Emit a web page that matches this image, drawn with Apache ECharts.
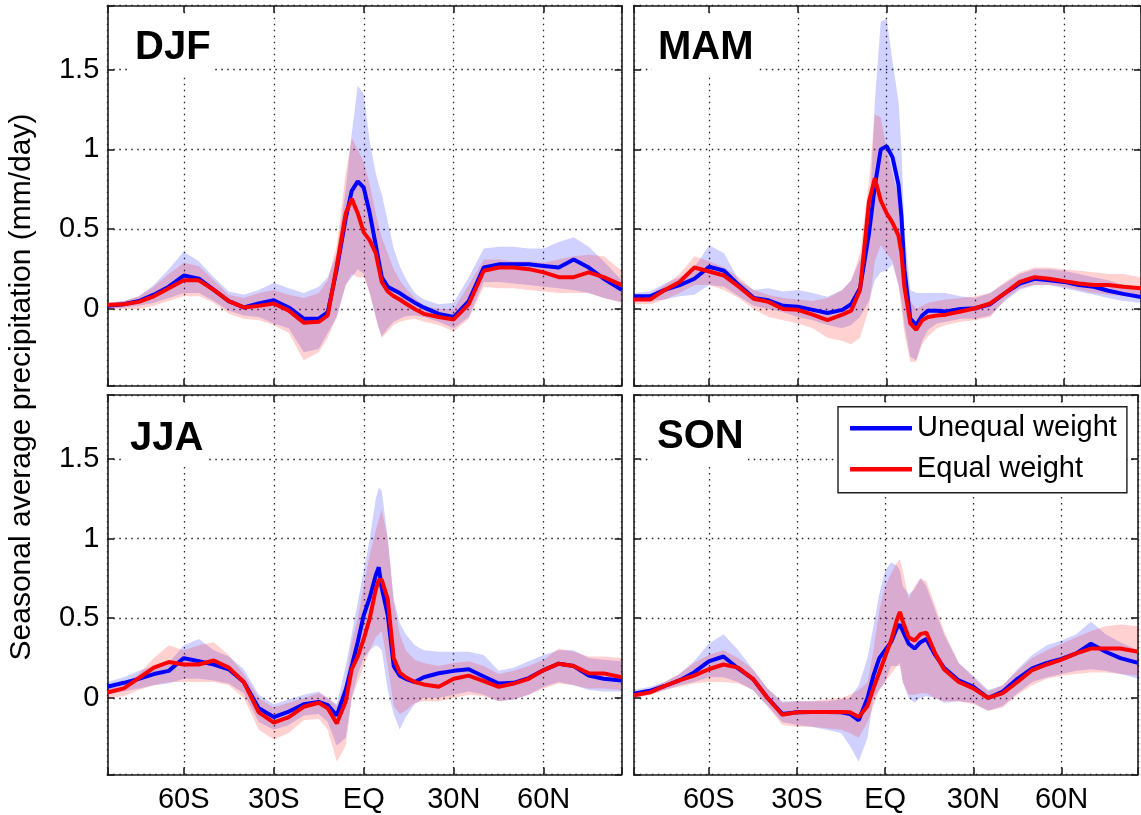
<!DOCTYPE html>
<html>
<head>
<meta charset="utf-8">
<script src="https://cdn.jsdelivr.net/npm/echarts@6/dist/echarts.min.js"></script>
<style>
  html, body { margin: 0; padding: 0; background: #fff; }
  #chart { width: 1141px; height: 815px; }
</style>
</head>
<body>
<div id="chart"></div>
<script>
// Latitude grid (degrees, negative = south) shared by every curve
const LAT = [-85.5, -80, -75, -70, -65, -60, -55, -50, -45, -40, -35, -30, -25, -20, -15, -12, -9, -6, -4, -2,
             0, 2, 4, 5, 6, 8, 10, 12, 14, 17, 20, 25, 30, 35, 40, 45, 50, 55, 60, 65, 70, 75, 80, 86];

const X_TICK_VALUES = [-60, -30, 0, 30, 60];
const X_TICK_LABELS = ['60S', '30S', 'EQ', '30N', '60N'];
const Y_TICK_VALUES = [0, 0.5, 1, 1.5];
const Y_TICK_LABELS = ['0', '0.5', '1', '1.5'];

const SEASONS = ['DJF', 'MAM', 'JJA', 'SON'];
const SERIES_NAMES = ['Unequal weight', 'Equal weight'];
const Y_TITLE = 'Seasonal average precipitation (mm/day)';

// DJF
const DJF_UNEQ    = [0.02, 0.03, 0.05, 0.09, 0.14, 0.21, 0.19, 0.12, 0.05, 0.01, 0.035, 0.055, 0.01, -0.06, -0.06, -0.02, 0.25, 0.57, 0.74, 0.8, 0.76, 0.6, 0.4, 0.3, 0.2, 0.14, 0.12, 0.1, 0.075, 0.04, 0.01, -0.03, -0.05, 0.05, 0.26, 0.28, 0.28, 0.28, 0.27, 0.26, 0.31, 0.26, 0.19, 0.12];
const DJF_UNEQ_HI = [0.04, 0.05, 0.08, 0.15, 0.25, 0.36, 0.3, 0.2, 0.11, 0.09, 0.12, 0.165, 0.13, 0.1, 0.14, 0.2, 0.35, 0.75, 1.1, 1.4, 1.35, 1.05, 0.85, 0.78, 0.72, 0.55, 0.38, 0.27, 0.19, 0.1, 0.06, 0.03, 0.04, 0.2, 0.38, 0.39, 0.39, 0.38, 0.38, 0.42, 0.45, 0.39, 0.3, 0.18];
const DJF_UNEQ_LO = [0.0, 0.01, 0.02, 0.04, 0.07, 0.1, 0.1, 0.05, -0.01, -0.04, -0.05, -0.09, -0.12, -0.27, -0.25, -0.15, -0.05, 0.15, 0.2, 0.25, 0.22, 0.1, -0.05, -0.12, -0.17, -0.12, -0.08, -0.06, -0.045, -0.04, -0.05, -0.08, -0.12, -0.05, 0.17, 0.17, 0.16, 0.15, 0.14, 0.13, 0.12, 0.1, 0.07, 0.045];
const DJF_EQ      = [0.025, 0.03, 0.045, 0.08, 0.13, 0.18, 0.18, 0.12, 0.05, 0.01, 0.02, 0.035, -0.01, -0.085, -0.08, -0.04, 0.27, 0.6, 0.69, 0.6, 0.48, 0.43, 0.35, 0.26, 0.17, 0.11, 0.08, 0.06, 0.035, 0.0, -0.03, -0.05, -0.065, 0.03, 0.24, 0.26, 0.26, 0.25, 0.23, 0.2, 0.2, 0.23, 0.2, 0.15];
const DJF_EQ_HI   = [0.04, 0.05, 0.08, 0.14, 0.22, 0.29, 0.27, 0.18, 0.09, 0.07, 0.1, 0.12, 0.09, 0.07, 0.1, 0.18, 0.4, 0.85, 1.07, 1.0, 0.92, 0.78, 0.6, 0.52, 0.45, 0.35, 0.25, 0.18, 0.13, 0.07, 0.02, 0.0, 0.0, 0.15, 0.31, 0.31, 0.3, 0.3, 0.29, 0.31, 0.33, 0.34, 0.33, 0.24];
const DJF_EQ_LO   = [0.0, 0.0, 0.0, 0.02, 0.05, 0.08, 0.08, 0.04, -0.03, -0.06, -0.07, -0.1, -0.15, -0.32, -0.27, -0.18, -0.05, 0.15, 0.22, 0.2, 0.2, 0.1, -0.05, -0.12, -0.18, -0.14, -0.1, -0.08, -0.07, -0.06, -0.08, -0.1, -0.14, -0.06, 0.14, 0.13, 0.13, 0.12, 0.11, 0.1, 0.1, 0.1, 0.07, 0.04];

// MAM
const MAM_UNEQ    = [0.08, 0.08, 0.12, 0.15, 0.19, 0.265, 0.24, 0.15, 0.07, 0.055, 0.02, 0.015, -0.005, -0.025, -0.005, 0.03, 0.13, 0.47, 0.77, 1.0, 1.02, 0.95, 0.78, 0.58, 0.25, -0.06, -0.1, -0.04, -0.01, -0.01, -0.015, 0.0, 0.005, 0.03, 0.1, 0.16, 0.19, 0.18, 0.17, 0.15, 0.14, 0.115, 0.095, 0.075];
const MAM_UNEQ_HI = [0.1, 0.11, 0.16, 0.2, 0.26, 0.4, 0.35, 0.18, 0.12, 0.13, 0.11, 0.12, 0.1, 0.077, 0.12, 0.18, 0.31, 0.5, 1.3, 1.8, 1.82, 1.55, 1.3, 1.0, 0.5, 0.12, 0.1, 0.1, 0.1, 0.1, 0.1, 0.08, 0.07, 0.1, 0.16, 0.22, 0.25, 0.25, 0.24, 0.22, 0.2, 0.18, 0.15, 0.12];
const MAM_UNEQ_LO = [0.05, 0.05, 0.06, 0.08, 0.09, 0.15, 0.14, 0.08, 0.02, 0.0, -0.02, -0.05, -0.07, -0.1, -0.12, -0.1, -0.05, 0.05, 0.18, 0.23, 0.24, 0.28, 0.15, 0.05, -0.1, -0.3, -0.32, -0.2, -0.13, -0.09, -0.08, -0.06, -0.06, -0.04, 0.05, 0.12, 0.15, 0.15, 0.13, 0.11, 0.09, 0.07, 0.05, 0.04];
const MAM_EQ      = [0.06, 0.06, 0.12, 0.17, 0.26, 0.235, 0.21, 0.14, 0.065, 0.045, 0.0, -0.005, -0.035, -0.07, -0.035, -0.01, 0.12, 0.67, 0.82, 0.68, 0.6, 0.54, 0.46, 0.35, 0.14, -0.09, -0.13, -0.07, -0.05, -0.04, -0.035, -0.015, 0.005, 0.035, 0.1, 0.17, 0.2, 0.19, 0.175, 0.16, 0.15, 0.15, 0.14, 0.13];
const MAM_EQ_HI   = [0.08, 0.09, 0.15, 0.22, 0.33, 0.3, 0.26, 0.2, 0.12, 0.09, 0.07, 0.06, 0.05, 0.07, 0.12, 0.18, 0.35, 0.8, 1.22, 1.2, 1.0, 0.85, 0.7, 0.5, 0.3, 0.05, 0.0, 0.02, 0.04, 0.05, 0.06, 0.07, 0.08, 0.1, 0.17, 0.23, 0.26, 0.26, 0.25, 0.24, 0.23, 0.22, 0.22, 0.2];
const MAM_EQ_LO   = [0.03, 0.03, 0.06, 0.1, 0.15, 0.15, 0.12, 0.07, 0.0, -0.05, -0.07, -0.09, -0.12, -0.18, -0.2, -0.22, -0.18, 0.0, 0.3, 0.4, 0.35, 0.3, 0.15, 0.0, -0.15, -0.33, -0.33, -0.22, -0.17, -0.12, -0.1, -0.08, -0.07, -0.05, 0.06, 0.13, 0.15, 0.15, 0.14, 0.12, 0.1, 0.09, 0.08, 0.07];

// JJA
const JJA_UNEQ    = [0.07, 0.095, 0.12, 0.15, 0.17, 0.25, 0.23, 0.21, 0.18, 0.1, -0.065, -0.12, -0.085, -0.04, -0.025, -0.045, -0.11, 0.05, 0.2, 0.35, 0.52, 0.63, 0.77, 0.82, 0.69, 0.52, 0.2, 0.14, 0.12, 0.1, 0.13, 0.155, 0.17, 0.18, 0.135, 0.09, 0.095, 0.125, 0.175, 0.215, 0.2, 0.14, 0.12, 0.11];
const JJA_UNEQ_HI = [0.1, 0.13, 0.17, 0.2, 0.22, 0.33, 0.37, 0.3, 0.26, 0.18, 0.02, -0.04, -0.01, 0.02, 0.04, 0.0, -0.04, 0.2, 0.4, 0.6, 0.8, 1.0, 1.25, 1.32, 1.3, 1.0, 0.62, 0.47, 0.4, 0.33, 0.3, 0.29, 0.29, 0.29, 0.27, 0.17, 0.19, 0.23, 0.27, 0.3, 0.3, 0.25, 0.24, 0.23];
const JJA_UNEQ_LO = [0.02, 0.04, 0.06, 0.08, 0.09, 0.12, 0.12, 0.11, 0.09, 0.03, -0.15, -0.2, -0.17, -0.11, -0.1, -0.15, -0.3, -0.25, 0.0, 0.15, 0.25, 0.3, 0.33, 0.32, 0.3, 0.05, -0.1, -0.2, -0.12, -0.04, 0.0, 0.0, 0.02, 0.04, 0.02, -0.02, -0.01, 0.02, 0.07, 0.1, 0.08, 0.05, 0.04, 0.04];
const JJA_EQ      = [0.034, 0.06, 0.125, 0.19, 0.225, 0.21, 0.21, 0.235, 0.19, 0.1, -0.09, -0.155, -0.12, -0.055, -0.03, -0.065, -0.16, -0.02, 0.18, 0.26, 0.37, 0.5, 0.68, 0.74, 0.74, 0.62, 0.25, 0.16, 0.13, 0.1, 0.085, 0.07, 0.12, 0.14, 0.105, 0.07, 0.09, 0.12, 0.175, 0.215, 0.2, 0.155, 0.154, 0.13];
const JJA_EQ_HI   = [0.06, 0.08, 0.15, 0.25, 0.33, 0.3, 0.33, 0.35, 0.27, 0.15, 0.0, -0.06, -0.03, 0.0, 0.03, 0.0, -0.05, 0.1, 0.35, 0.5, 0.7, 0.9, 1.05, 1.12, 1.18, 1.0, 0.6, 0.4, 0.3, 0.24, 0.22, 0.2, 0.22, 0.23, 0.2, 0.15, 0.17, 0.2, 0.24, 0.31, 0.29, 0.26, 0.26, 0.25];
const JJA_EQ_LO   = [0.0, 0.01, 0.05, 0.08, 0.1, 0.1, 0.1, 0.1, 0.08, 0.0, -0.2, -0.26, -0.22, -0.14, -0.13, -0.2, -0.4, -0.3, 0.0, 0.1, 0.2, 0.3, 0.38, 0.4, 0.42, 0.2, -0.05, -0.1, -0.08, -0.03, -0.02, -0.02, 0.0, 0.02, 0.01, -0.02, -0.01, 0.02, 0.06, 0.09, 0.08, 0.06, 0.06, 0.05];

// SON
const SON_UNEQ    = [0.027, 0.045, 0.075, 0.11, 0.16, 0.23, 0.26, 0.185, 0.12, 0.0, -0.1, -0.09, -0.088, -0.088, -0.09, -0.1, -0.14, 0.0, 0.14, 0.25, 0.3, 0.35, 0.44, 0.46, 0.42, 0.34, 0.31, 0.35, 0.37, 0.27, 0.19, 0.11, 0.07, 0.0, 0.04, 0.12, 0.185, 0.22, 0.245, 0.28, 0.34, 0.29, 0.25, 0.22];
const SON_UNEQ_HI = [0.05, 0.07, 0.1, 0.15, 0.23, 0.34, 0.4, 0.3, 0.18, 0.06, -0.02, -0.02, -0.02, -0.02, -0.01, 0.0, 0.08, 0.25, 0.45, 0.65, 0.8, 0.85, 0.83, 0.8, 0.7, 0.65, 0.68, 0.75, 0.7, 0.55, 0.4, 0.22, 0.14, 0.05, 0.08, 0.18, 0.27, 0.33, 0.36, 0.4, 0.48, 0.4, 0.35, 0.3];
const SON_UNEQ_LO = [0.0, 0.02, 0.05, 0.08, 0.1, 0.13, 0.13, 0.1, 0.05, -0.05, -0.15, -0.17, -0.18, -0.2, -0.22, -0.3, -0.4, -0.25, 0.0, 0.05, 0.1, 0.2, 0.2, 0.22, 0.1, 0.0, -0.03, 0.0, 0.01, 0.0, -0.03, -0.02, -0.03, -0.08, -0.05, 0.03, 0.1, 0.13, 0.15, 0.17, 0.18, 0.17, 0.15, 0.12];
const SON_EQ      = [0.017, 0.035, 0.075, 0.11, 0.14, 0.18, 0.21, 0.19, 0.12, 0.0, -0.105, -0.09, -0.088, -0.088, -0.088, -0.09, -0.12, -0.05, 0.06, 0.16, 0.26, 0.36, 0.49, 0.54, 0.48, 0.38, 0.36, 0.4, 0.41, 0.28, 0.18, 0.1, 0.06, 0.0, 0.03, 0.1, 0.175, 0.21, 0.24, 0.28, 0.31, 0.31, 0.31, 0.29];
const SON_EQ_HI   = [0.04, 0.06, 0.1, 0.15, 0.22, 0.27, 0.3, 0.25, 0.18, 0.06, -0.03, -0.02, -0.02, -0.01, 0.0, 0.02, 0.05, 0.1, 0.3, 0.55, 0.7, 0.78, 0.85, 0.87, 0.8, 0.62, 0.7, 0.75, 0.73, 0.58, 0.42, 0.22, 0.13, 0.04, 0.08, 0.17, 0.25, 0.3, 0.34, 0.38, 0.42, 0.45, 0.46, 0.45];
const SON_EQ_LO   = [0.0, 0.02, 0.05, 0.07, 0.09, 0.1, 0.1, 0.09, 0.05, -0.05, -0.17, -0.18, -0.18, -0.19, -0.2, -0.22, -0.25, -0.15, -0.05, 0.05, 0.1, 0.15, 0.2, 0.2, 0.1, 0.02, 0.02, 0.03, 0.03, 0.0, -0.02, -0.02, -0.04, -0.08, -0.06, 0.02, 0.08, 0.12, 0.14, 0.15, 0.16, 0.16, 0.15, 0.14];

const PANEL_DATA = [
  { uneq: DJF_UNEQ, uneqHi: DJF_UNEQ_HI, uneqLo: DJF_UNEQ_LO, eq: DJF_EQ, eqHi: DJF_EQ_HI, eqLo: DJF_EQ_LO },
  { uneq: MAM_UNEQ, uneqHi: MAM_UNEQ_HI, uneqLo: MAM_UNEQ_LO, eq: MAM_EQ, eqHi: MAM_EQ_HI, eqLo: MAM_EQ_LO },
  { uneq: JJA_UNEQ, uneqHi: JJA_UNEQ_HI, uneqLo: JJA_UNEQ_LO, eq: JJA_EQ, eqHi: JJA_EQ_HI, eqLo: JJA_EQ_LO },
  { uneq: SON_UNEQ, uneqHi: SON_UNEQ_HI, uneqLo: SON_UNEQ_LO, eq: SON_EQ, eqHi: SON_EQ_HI, eqLo: SON_EQ_LO }
];

// ---- layout and styling ----
const FONT = 'Liberation Sans, Arial, Helvetica, sans-serif';
const X_MIN = -85.5, X_MAX = 86;
const Y_MIN = -0.48, Y_MAX = 1.9;
const AXIS_COLOR = '#1e1e1e';
const BLUE = '#0000ff', RED = '#ff0000';
const BAND_BLUE = 'rgba(0,0,255,0.18)';
const BAND_RED = 'rgba(255,0,0,0.18)';
const LINE_WIDTH = 4;

const PANELS = [
  { left: 107.3, top: 5.7,  width: 514.4, height: 380 },
  { left: 633.8, top: 5.7,  width: 514.4, height: 380 },
  { left: 107.3, top: 395,  width: 514.4, height: 379.5 },
  { left: 633.8, top: 395,  width: 514.4, height: 379.5 }
];
// season tag boxes (white background hides the grid behind the text)
const TAGS = [
  { left: 131, top: 14,  padding: [14, 3, 7, 4] },
  { left: 652, top: 14,  padding: [14, 5, 7, 6] },
  { left: 125, top: 403, padding: [16, 3, 4, 5] },
  { left: 652, top: 403, padding: [14, 4, 6, 5] }
];

function pickLabel(values, labels, v) {
  for (let i = 0; i < values.length; i++) {
    if (Math.abs(v - values[i]) < 1e-6) return labels[i];
  }
  return '';
}

const axisLine = { show: true, onZero: false, lineStyle: { color: AXIS_COLOR, width: 1.6 } };
const axisTick = { show: true, inside: true, length: 7, lineStyle: { color: AXIS_COLOR, width: 1.6 } };
const gridLine = { show: true, lineStyle: { color: '#222', width: 1.3, type: [1.5, 4.5] } };
const tickFont = { fontSize: 29, fontFamily: FONT, color: '#000' };

// spread band drawn as one polygon: upper edge left to right, lower edge back
function bandSeries(xi, yi, lo, hi, color) {
  return {
    type: 'custom', xAxisIndex: xi, yAxisIndex: yi, silent: true,
    encode: { x: 0, y: [1, 2] },
    data: LAT.map((x, k) => [x, lo[k], hi[k]]),
    renderItem: (params, api) => {
      if (params.dataIndex !== 0) return null;
      const upper = LAT.map((x, k) => api.coord([x, hi[k]]));
      const lower = LAT.map((x, k) => api.coord([x, lo[k]])).reverse();
      const cs = params.coordSys;
      return {
        type: 'polygon',
        shape: { points: upper.concat(lower) },
        style: { fill: color, stroke: null },
        clipPath: { type: 'rect', shape: { x: cs.x, y: cs.y, width: cs.width, height: cs.height } }
      };
    }
  };
}

const grids = [], xAxes = [], yAxes = [], series = [], titles = [];

PANELS.forEach((p, i) => {
  grids.push({ left: p.left, top: p.top, width: p.width, height: p.height, containLabel: false });
  const showX = i >= 2, showY = i % 2 === 0;
  // bottom axis with labels and grid, top axis for the box and ticks only
  xAxes.push({
    gridIndex: i, type: 'value', min: X_MIN, max: X_MAX, position: 'bottom',
    axisLine, axisTick, splitLine: gridLine,
    axisLabel: Object.assign({ show: showX, margin: 11, lineHeight: 29,
      showMinLabel: true, showMaxLabel: true,
      formatter: v => pickLabel(X_TICK_VALUES, X_TICK_LABELS, v) }, tickFont)
  });
  xAxes.push({
    gridIndex: i, type: 'value', min: X_MIN, max: X_MAX, position: 'top',
    axisLine, axisTick, splitLine: { show: false }, axisLabel: { show: false }
  });
  yAxes.push({
    gridIndex: i, type: 'value', min: Y_MIN, max: Y_MAX, position: 'left',
    axisLine, axisTick, splitLine: gridLine,
    axisLabel: Object.assign({ show: showY, margin: 8,
      formatter: v => pickLabel(Y_TICK_VALUES, Y_TICK_LABELS, v) }, tickFont)
  });
  yAxes.push({
    gridIndex: i, type: 'value', min: Y_MIN, max: Y_MAX, position: 'right',
    axisLine, axisTick, splitLine: { show: false }, axisLabel: { show: false }
  });

  const xi = 2 * i, yi = 2 * i;
  const d = PANEL_DATA[i];
  series.push(bandSeries(xi, yi, d.uneqLo, d.uneqHi, BAND_BLUE));
  series.push(bandSeries(xi, yi, d.eqLo, d.eqHi, BAND_RED));
  series.push({
    type: 'line', name: SERIES_NAMES[0], xAxisIndex: xi, yAxisIndex: yi,
    symbol: 'none', lineStyle: { color: BLUE, width: LINE_WIDTH }, itemStyle: { color: BLUE },
    data: LAT.map((x, k) => [x, d.uneq[k]])
  });
  series.push({
    type: 'line', name: SERIES_NAMES[1], xAxisIndex: xi, yAxisIndex: yi,
    symbol: 'none', lineStyle: { color: RED, width: LINE_WIDTH }, itemStyle: { color: RED },
    data: LAT.map((x, k) => [x, d.eq[k]])
  });

  titles.push({
    text: SEASONS[i], left: TAGS[i].left, top: TAGS[i].top, padding: TAGS[i].padding,
    backgroundColor: '#fff', z: 8,
    textStyle: { fontSize: 40, fontWeight: 'bold', fontFamily: FONT, color: '#000', lineHeight: 40 }
  });
});

const chart = echarts.init(document.getElementById('chart'), null, { renderer: 'canvas' });
chart.setOption({
  animation: false,
  backgroundColor: '#fff',
  title: titles,
  grid: grids,
  xAxis: xAxes,
  yAxis: yAxes,
  series,
  legend: {
    data: SERIES_NAMES, orient: 'vertical', left: 838, top: 406.7,
    icon: 'rect', itemWidth: 62, itemHeight: 4.5, itemGap: 12, itemTextGap: 9,
    padding: [7, 10, 9, 12], backgroundColor: '#fff', borderColor: AXIS_COLOR, borderWidth: 1.4,
    borderRadius: 0, selectedMode: false, z: 8,
    textStyle: { fontSize: 29, fontFamily: FONT, color: '#000', lineHeight: 29 }
  },
  graphic: [{
    type: 'text', x: 22, y: 387, rotation: Math.PI / 2, silent: true,
    style: { text: Y_TITLE, fontSize: 30, fontFamily: FONT, fill: '#000',
             align: 'center', verticalAlign: 'middle', textAlign: 'center', textVerticalAlign: 'middle' }
  }]
});
</script>
</body>
</html>
